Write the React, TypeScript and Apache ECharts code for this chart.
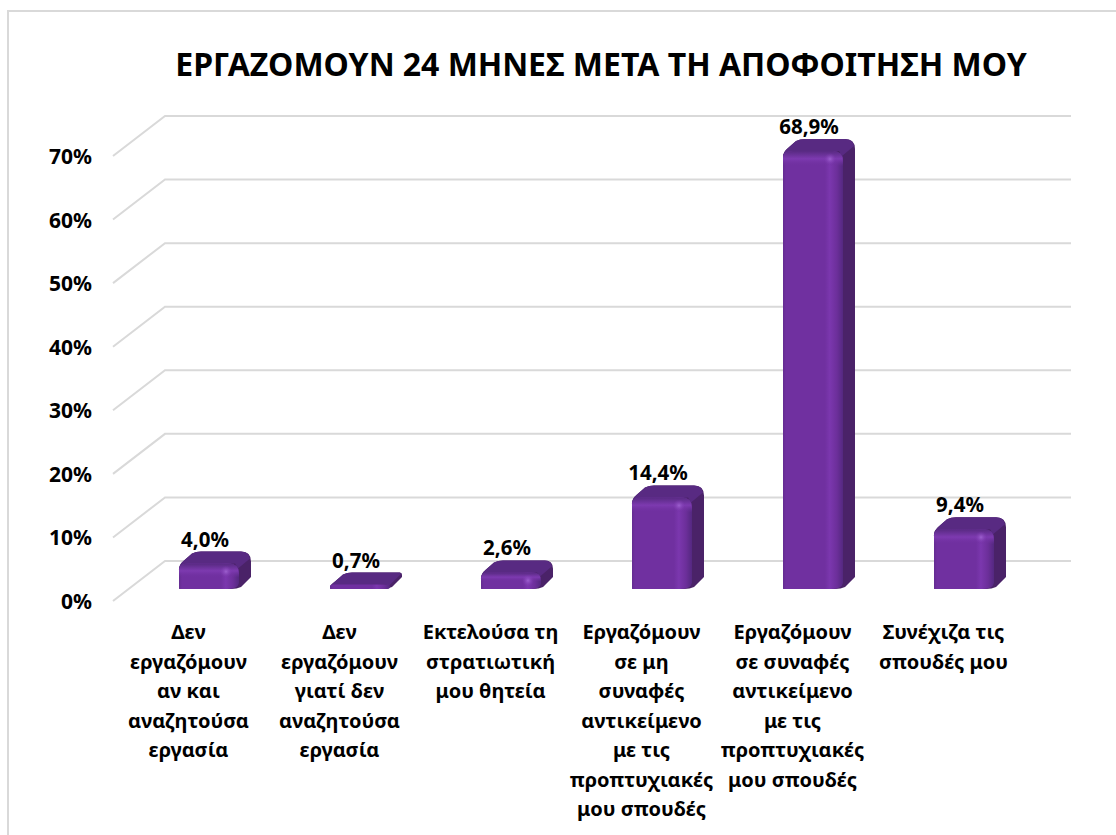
import React, { useEffect, useRef } from "react";
import * as echarts from "echarts";

const titleText = "ΕΡΓΑΖΟΜΟΥΝ 24 ΜΗΝΕΣ ΜΕΤΑ ΤΗ ΑΠΟΦΟΙΤΗΣΗ ΜΟΥ";
const categories = [
  "Δεν\nεργαζόμουν\nαν και\nαναζητούσα\nεργασία",
  "Δεν\nεργαζόμουν\nγιατί δεν\nαναζητούσα\nεργασία",
  "Εκτελούσα τη\nστρατιωτική\nμου θητεία",
  "Εργαζόμουν\nσε μη\nσυναφές\nαντικείμενο\nμε τις\nπροπτυχιακές\nμου σπουδές",
  "Εργαζόμουν\nσε συναφές\nαντικείμενο\nμε τις\nπροπτυχιακές\nμου σπουδές",
  "Συνέχιζα τις\nσπουδές μου",
];
const values = [4.0, 0.7, 2.6, 14.4, 68.9, 9.4];
const gridTicks = [0, 10, 20, 30, 40, 50, 60, 70];

const FONT = '"Noto Sans", sans-serif';
const WALL_DX = 52;
const WALL_DY = -40;

function renderGridLine(params: any, api: any) {
  const p = api.coord([0, api.value(1)]);
  const cs = params.coordSys;
  return {
    type: "polyline",
    silent: true,
    shape: {
      points: [
        [cs.x, p[1]],
        [cs.x + WALL_DX, p[1] + WALL_DY],
        [cs.x + cs.width + WALL_DX, p[1] + WALL_DY],
      ],
    },
    style: { stroke: "#d9d9d9", lineWidth: 2, fill: "none" },
  };
}

function renderBar(params: any, api: any) {
  const idx = api.value(0);
  const v = api.value(1);
  const top = api.coord([idx, v]);
  const base = api.coord([idx, 0]);
  const x0 = top[0] - 9.5;
  const w = 60;
  const dx = 12;
  const dy = 12;
  const x1 = x0 + w;
  const yT = top[1] - 12;
  const yB = base[1] - 12;
  const yBack = yT - dy;
  const h = yB - yT;
  const r = Math.min(10, Math.max(h * 0.5, 1));
  const rb = Math.min(6, Math.max(h * 0.3, 1));
  const leftY = yT + Math.min(6, h * 0.5);
  const silhouette =
    `M${x0} ${leftY} Q${x0} ${yT + 1} ${x0 + 5} ${yT - 3} L${x0 + 13} ${yBack + 2} Q${x0 + 17} ${yBack} ${x0 + 22} ${yBack} ` +
    `L${x1 + dx - r} ${yBack} Q${x1 + dx} ${yBack} ${x1 + dx} ${yBack + r} ` +
    `L${x1 + dx} ${yB - dy} L${x1 + 2} ${yB - 2} Q${x1 - 2} ${yB} ${x1 - 8} ${yB} L${x0 + 1} ${yB} Q${x0} ${yB} ${x0} ${yB - 1} Z`;
  const topFace =
    `M${x0} ${leftY} Q${x0} ${yT + 1} ${x0 + 5} ${yT - 3} L${x0 + 13} ${yBack + 2} Q${x0 + 17} ${yBack} ${x0 + 22} ${yBack} ` +
    `L${x1 + dx - r} ${yBack} Q${x1 + dx - 2} ${yBack} ${x1 + dx - 1} ${yBack + r * 0.7} L${x1 - 1} ${yT + r * 0.5} L${x1 - 4} ${yT} Z`;
  const front =
    `M${x0} ${leftY} Q${x0} ${yT} ${x0 + r} ${yT} L${x1 - r} ${yT} Q${x1} ${yT} ${x1} ${yT + r} ` +
    `L${x1} ${yB - rb} Q${x1 - 1} ${yB} ${x1 - rb * 2} ${yB} L${x0 + 1} ${yB} Q${x0} ${yB} ${x0} ${yB - 1} Z`;
  const frontGrad = new echarts.graphic.LinearGradient(0, 0, 1, 0, [
    { offset: 0, color: "#642c91" },
    { offset: 0.05, color: "#7030a0" },
    { offset: 0.7, color: "#7030a0" },
    { offset: 0.78, color: "#7b37ae" },
    { offset: 0.9, color: "#6c2f9a" },
    { offset: 1, color: "#542880" },
  ]);
  const children: any[] = [
    { type: "path", shape: { pathData: silhouette }, style: { fill: "#4a2268" } },
    { type: "path", shape: { pathData: topFace }, style: { fill: "#582a82" } },
    { type: "path", shape: { pathData: front }, style: { fill: frontGrad } },
  ];
  if (h > 10) {
    const bh = Math.min(15, h * 0.55);
    const bevel =
      `M${x0} ${yT + bh} L${x0} ${leftY} Q${x0} ${yT} ${x0 + r} ${yT} L${x1 - r} ${yT} Q${x1} ${yT} ${x1} ${yT + r} L${x1} ${yT + bh} Z`;
    children.push({
      type: "path",
      shape: { pathData: bevel },
      style: {
        fill: new echarts.graphic.LinearGradient(0, 0, 0, 1, [
          { offset: 0, color: "rgba(88,42,130,1)" },
          { offset: 0.52, color: "rgba(125,58,176,1)" },
          { offset: 1, color: "rgba(112,48,160,0)" },
        ]),
      },
    });
    children.push({
      type: "circle",
      shape: { cx: x1 - 13, cy: yT + 8, r: 6 },
      style: {
        fill: new echarts.graphic.RadialGradient(0.5, 0.5, 0.5, [
          { offset: 0, color: "rgba(160,100,210,0.9)" },
          { offset: 1, color: "rgba(130,60,180,0)" },
        ]),
      },
    });
  }
  children.push({
    type: "text",
    style: {
      x: x0 + 26,
      y: yBack - 13,
      text: v.toFixed(1).replace(".", ",") + "%",
      fill: "#000000",
      font: `bold 20.5px ${FONT}`,
      align: "center",
      verticalAlign: "middle",
    },
  });
  return { type: "group", children };
}

export default function App() {
  const ref = useRef<HTMLDivElement>(null);
  useEffect(() => {
    const chart = echarts.init(ref.current!, undefined, { renderer: "svg" });
    chart.setOption({
      animation: false,
      backgroundColor: "#ffffff",
      title: {
        text: titleText,
        left: 596,
        top: 58,
        textAlign: "center",
        textVerticalAlign: "middle",
        textStyle: { color: "#000000", fontSize: 32, fontWeight: "bold", fontFamily: FONT },
      },
      grid: { left: 113, right: 1116 - 1019, top: 156, bottom: 835 - 601, containLabel: false },
      xAxis: {
        type: "category",
        data: categories,
        axisLine: { show: false },
        axisTick: { show: false },
        axisLabel: {
          interval: 0,
          margin: 16,
          color: "#000000",
          fontSize: 20,
          fontWeight: "bold",
          fontFamily: FONT,
          lineHeight: 29.5,
          verticalAlign: "top",
        },
      },
      yAxis: {
        type: "value",
        min: 0,
        max: 70,
        interval: 10,
        axisLine: { show: false },
        axisTick: { show: false },
        splitLine: { show: false },
        axisLabel: {
          margin: 21,
          color: "#000000",
          fontSize: 21,
          fontWeight: "bold",
          fontFamily: FONT,
          formatter: "{value}%",
        },
      },
      graphic: [
        {
          type: "polyline",
          silent: true,
          shape: { points: [[8, 835], [8, 11], [1116, 11]] },
          style: { stroke: "#d9d9d9", lineWidth: 2, fill: "none" },
        },
      ],
      series: [
        {
          type: "custom",
          coordinateSystem: "cartesian2d",
          clip: false,
          z: 1,
          silent: true,
          data: gridTicks.map((t) => [0, t]),
          encode: { x: 0, y: 1 },
          renderItem: renderGridLine,
        },
        {
          type: "custom",
          coordinateSystem: "cartesian2d",
          clip: false,
          z: 2,
          silent: true,
          data: values.map((v, i) => [i, v]),
          encode: { x: 0, y: 1 },
          renderItem: renderBar,
        },
      ],
    });
    return () => chart.dispose();
  }, []);
  return (
    <div
      ref={ref}
      style={{ position: "absolute", left: 0, top: 0, width: 1116, height: 835 }}
    />
  );
}
